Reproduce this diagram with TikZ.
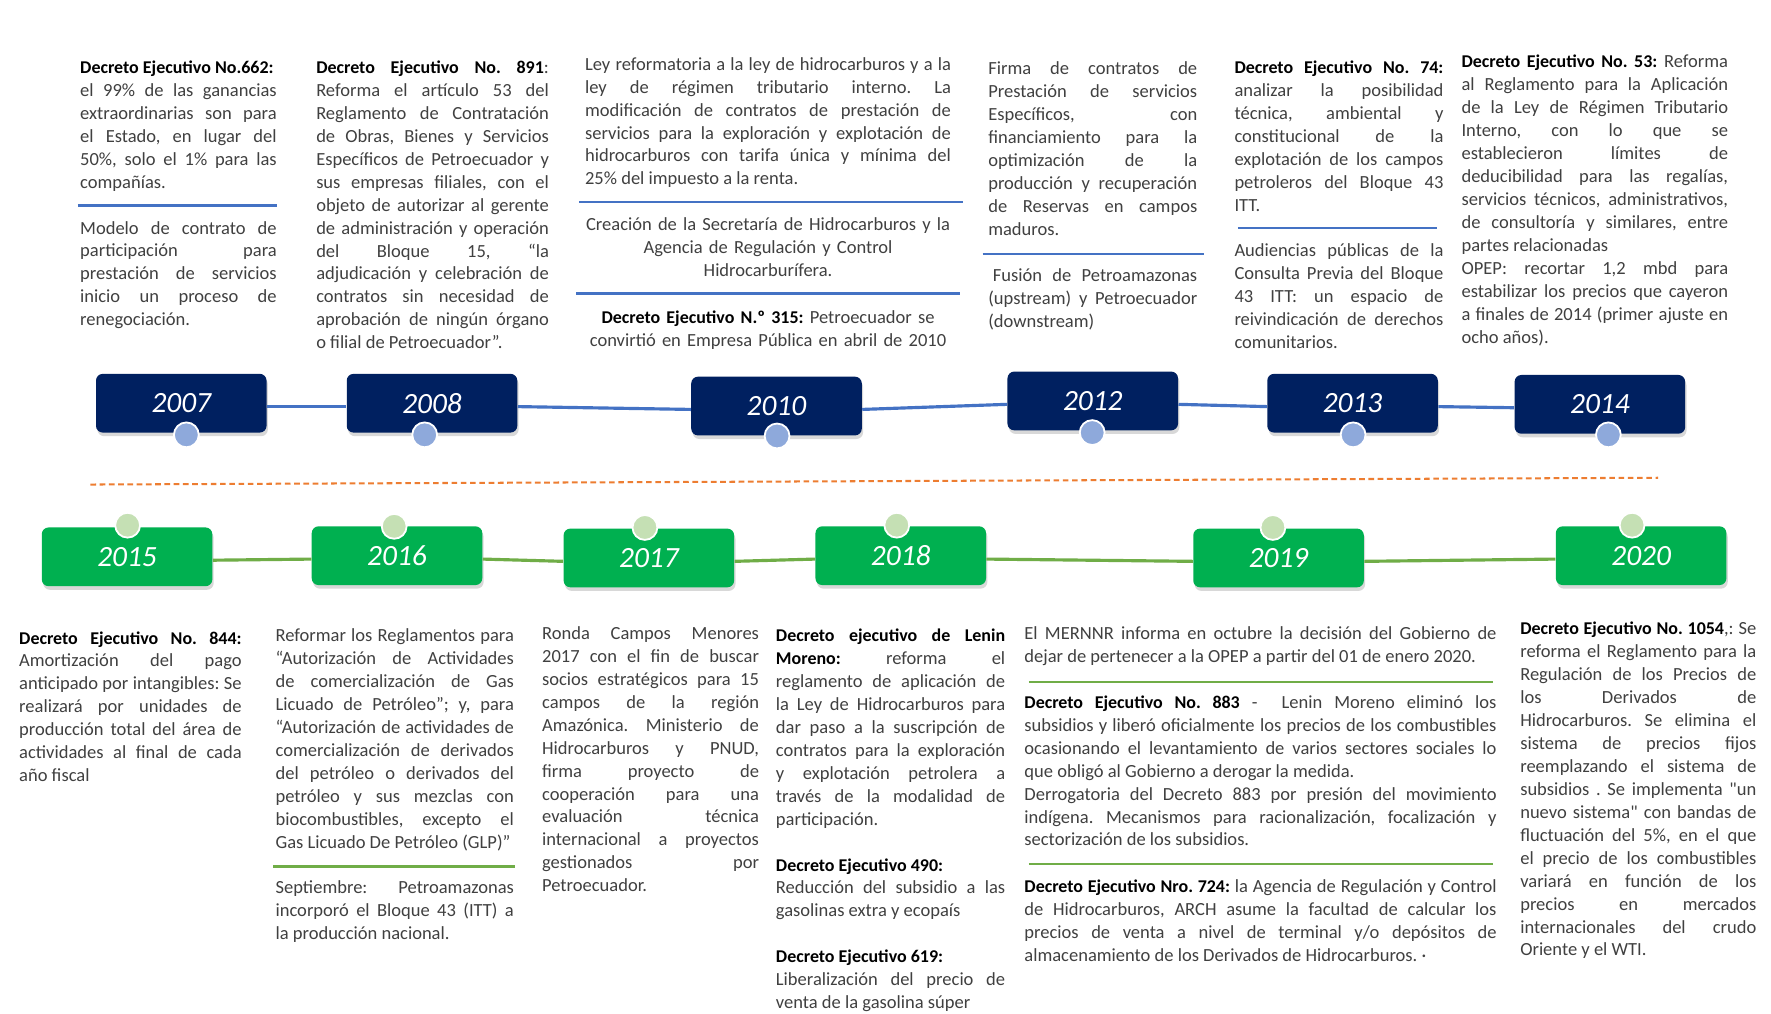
\documentclass[tikz,border=0pt]{standalone}
\usepackage{fontspec}
\setmainfont{Carlito}[Ligatures=TeXOff, BoldFeatures={Scale=0.97}]
\usetikzlibrary{shadows}
\definecolor{navy}{HTML}{002060}
\definecolor{grn}{HTML}{00B050}
\definecolor{lineblue}{HTML}{4472C4}
\definecolor{linegreen}{HTML}{70AD47}
\definecolor{circblue}{HTML}{8EA9DB}
\definecolor{circgreen}{HTML}{C5E0B4}
\definecolor{dashorange}{HTML}{ED7D31}
\definecolor{bodygray}{HTML}{404040}
\newcommand{\hd}[1]{{\bfseries\color{black}#1}}
\newcommand{\nl}{\linebreak}
\tikzset{
  txt/.style={anchor=north west, inner sep=0pt, outer sep=0pt, align=justify, text=bodygray,
    font=\fontsize{8.2}{10.15}\selectfont,
    execute at begin node={\parindent=0pt\frenchspacing\tolerance=10000\hyphenpenalty=10000\exhyphenpenalty=10000\hbadness=10000\hfuzz=3pt\strut}},
  ctxt/.style={anchor=north, inner sep=0pt, outer sep=0pt, align=center, text=bodygray,
    font=\fontsize{8.2}{10.15}\selectfont,
    execute at begin node={\parindent=0pt\frenchspacing\strut}},
  yearbox/.style={rectangle, rounded corners=3pt, minimum width=75.5pt, minimum height=26pt,
    inner sep=0pt, text=white, font=\fontsize{13}{15}\selectfont\itshape,
    drop shadow={shadow xshift=0.6pt, shadow yshift=-1.6pt, opacity=0.3}},
  topbox/.style={yearbox, fill=navy},
  botbox/.style={yearbox, fill=grn},
  dot/.style={circle, draw=white, line width=0.8pt, minimum size=11pt, inner sep=0pt},
  topdot/.style={dot, fill=circblue},
  botdot/.style={dot, fill=circgreen},
  bline/.style={draw=lineblue, line width=1.4pt},
  gline/.style={draw=linegreen, line width=1.4pt},
  brule/.style={draw=lineblue, line width=1.1pt},
  grule/.style={draw=linegreen, line width=1.1pt},
}
\begin{document}
\begin{tikzpicture}[x=0.5pt,y=-0.5pt]
\useasboundingbox[fill=white] (0,0) rectangle (1568,897);

% ---------- top year boxes ----------
\node[topbox] (b2007) at (160.5,357) {2007};
\node[topbox] (b2008) at (382.5,357) {2008};
\node[topbox] (b2010) at (687.5,359.5) {2010};
\node[topbox] (b2012) at (967.5,355) {2012};
\node[topbox] (b2013) at (1197.5,357) {2013};
\node[topbox] (b2014) at (1416.5,358) {2014};
\draw[bline] ([yshift=-1.5pt]b2007.east) -- ([yshift=-1.5pt]b2008.west);
\draw[bline] ([yshift=-1.5pt]b2008.east) -- ([yshift=-1.5pt]b2010.west);
\draw[bline] ([yshift=-1.5pt]b2010.east) -- ([yshift=-1.5pt]b2012.west);
\draw[bline] ([yshift=-1.5pt]b2012.east) -- ([yshift=-1.5pt]b2013.west);
\draw[bline] ([yshift=-1.5pt]b2013.east) -- ([yshift=-1.5pt]b2014.west);
\node[topdot] (d2007) at (165,385) {};
\node[topdot] (d2008) at (376,385) {};
\node[topdot] (d2010) at (688,386) {};
\node[topdot] (d2012) at (967,383) {};
\node[topdot] (d2013) at (1198,385) {};
\node[topdot] (d2014) at (1424,385) {};

% ---------- dashed separator ----------
\draw[dashorange, line width=0.9pt, dash pattern=on 2.5pt off 1.6pt] (80,429) -- (1468,423);

% ---------- bottom year boxes ----------
\node[botbox] (b2015) at (112.5,493) {2015};
\node[botbox] (b2016) at (351.5,492) {2016};
\node[botbox] (b2017) at (574.5,494) {2017};
\node[botbox] (b2018) at (797.5,492) {2018};
\node[botbox] (b2019) at (1132,494) {2019};
\node[botbox] (b2020) at (1453,492) {2020};
\draw[gline] ([yshift=-1.5pt]b2015.east) -- ([yshift=-1.5pt]b2016.west);
\draw[gline] ([yshift=-1.5pt]b2016.east) -- ([yshift=-1.5pt]b2017.west);
\draw[gline] ([yshift=-1.5pt]b2017.east) -- ([yshift=-1.5pt]b2018.west);
\draw[gline] ([yshift=-1.5pt]b2018.east) -- ([yshift=-1.5pt]b2019.west);
\draw[gline] ([yshift=-1.5pt]b2019.east) -- ([yshift=-1.5pt]b2020.west);
\node[botdot] (d2015) at (113,465) {};
\node[botdot] (d2016) at (349,466) {};
\node[botdot] (d2017) at (571,467) {};
\node[botdot] (d2018) at (794,465) {};
\node[botdot] (d2019) at (1127,467) {};
\node[botdot] (d2020) at (1445,465) {};

% ---------- top texts ----------
\node[txt, text width=87pt] (t1a) at (71,51) {\mbox{\hd{Decreto Ejecutivo No.662:}}\nl
el 99\% de las ganancias\nl extraordinarias son para\nl el Estado, en lugar del\nl
50\%, solo el 1\% para las\nl compañías.};
\draw[brule] (69,182) -- (245,182);
\node[txt, text width=87pt] (t1b) at (71,193) {Modelo de contrato de\nl participación para\nl
prestación de servicios\nl inicio un proceso de\nl renegociación.};

\node[txt, text width=103pt] (t2) at (280,51) {\hd{Decreto Ejecutivo No. 891}:\nl
Reforma el artículo 53 del\nl Reglamento de Contratación\nl de Obras, Bienes y Servicios\nl
Específicos de Petroecuador y\nl sus empresas filiales, con el\nl objeto de autorizar al gerente\nl
de administración y operación\nl del Bloque 15, “la\nl adjudicación y celebración de\nl
contratos sin necesidad de\nl aprobación de ningún órgano\nl o filial de Petroecuador”.};

\node[txt, text width=162pt] (t3a) at (518,48) {Ley reformatoria a la ley de hidrocarburos y a la\nl
ley de régimen tributario interno. La\nl modificación de contratos de prestación de\nl
servicios para la exploración y explotación de\nl hidrocarburos con tarifa única y mínima del\nl
25\% del impuesto a la renta.};
\draw[brule] (513,179) -- (853,179);
\node[ctxt, text width=170pt] (t3b) at (680,190) {Creación de la Secretaría de Hidrocarburos y la\\
Agencia de Regulación y Control\\ Hidrocarburífera.};
\draw[brule] (510,260) -- (850,260);
\node[ctxt, text width=170pt] (t3c) at (680,272) {\hd{Decreto Ejecutivo N.º 315:} Petroecuador se\\
convirtió en Empresa Pública en abril de 2010};

\node[txt, text width=92.5pt] (t4a) at (875,52) {Firma de contratos de\nl Prestación de servicios\nl
Específicos, con\nl financiamiento para la\nl optimización de la\nl producción y recuperación\nl
de Reservas en campos\nl maduros.};
\draw[brule] (870,225) -- (1066,225);
\node[txt, text width=92.5pt] (t4b) at (875,235) {\hspace{2pt}Fusión de Petroamazonas\nl
(upstream) y Petroecuador\nl (downstream)};

\node[txt, text width=92.5pt] (t5a) at (1093,51) {\hd{Decreto Ejecutivo No. 74:}\nl
analizar la posibilidad\nl técnica, ambiental y\nl constitucional de la\nl
explotación de los campos\nl petroleros del Bloque 43\nl ITT.};
\draw[brule] (1096,202) -- (1272,202);
\node[txt, text width=92.5pt] (t5b) at (1093,213) {Audiencias públicas de la\nl
Consulta Previa del Bloque\nl 43 ITT: un espacio de\nl reivindicación de derechos\nl comunitarios.};

\node[txt, text width=118pt] (t6) at (1294,46) {\hd{Decreto Ejecutivo No. 53:} Reforma\nl
al Reglamento para la Aplicación\nl de la Ley de Régimen Tributario\nl Interno, con lo que se\nl
establecieron límites de\nl deducibilidad para las regalías,\nl servicios técnicos, administrativos,\nl
de consultoría y similares, entre\nl partes relacionadas\par
OPEP: recortar 1,2 mbd para\nl estabilizar los precios que cayeron\nl
a finales de 2014 (primer ajuste en\nl ocho años).};

% ---------- bottom texts ----------
\node[txt, text width=98.5pt] (t7) at (17,556) {\hd{Decreto Ejecutivo No. 844:}\nl
Amortización del pago\nl anticipado por intangibles: Se\nl realizará por unidades de\nl
producción total del área de\nl actividades al final de cada\nl año fiscal};

\node[txt, text width=105.5pt] (t8a) at (244,554) {Reformar los Reglamentos para\nl
“Autorización de Actividades\nl de comercialización de Gas\nl Licuado de Petróleo”; y, para\nl
“Autorización de actividades de\nl comercialización de derivados\nl del petróleo o derivados del\nl
petróleo y sus mezclas con\nl biocombustibles, excepto el\nl Gas Licuado De Petróleo (GLP)”};
\draw[grule] (242,767) -- (456,767);
\node[txt, text width=105.5pt] (t8b) at (244,777) {Septiembre: Petroamazonas\nl
incorporó el Bloque 43 (ITT) a\nl la producción nacional.};

\node[txt, text width=96pt] (t9) at (480,552) {Ronda Campos Menores\nl 2017 con el fin de buscar\nl
socios estratégicos para 15\nl campos de la región\nl Amazónica. Ministerio de\nl
Hidrocarburos y PNUD,\nl firma proyecto de\nl cooperación para una\nl evaluación técnica\nl
internacional a proyectos\nl gestionados por\nl Petroecuador.};

\node[txt, text width=101.5pt] (t10) at (687,554) {\hd{Decreto ejecutivo de Lenin}\nl
\hd{Moreno:} reforma el\nl reglamento de aplicación de\nl la Ley de Hidrocarburos para\nl
dar paso a la suscripción de\nl contratos para la exploración\nl y explotación petrolera a\nl
través de la modalidad de\nl participación.\par\strut\par
\hd{Decreto Ejecutivo 490:}\par Reducción del subsidio a las\nl gasolinas extra y ecopaís\par\strut\par
\hd{Decreto Ejecutivo 619:}\par Liberalización del precio de\nl venta de la gasolina súper};

\node[txt, text width=209pt] (t11a) at (907,552) {El MERNNR informa en octubre la decisión del Gobierno de\nl
dejar de pertenecer a la OPEP a partir del 01 de enero 2020.};
\draw[grule] (911,604) -- (1322,604);
\node[txt, text width=209pt] (t11b) at (907,613) {\hd{Decreto Ejecutivo No. 883} -\ \ Lenin Moreno eliminó los\nl
subsidios y liberó oficialmente los precios de los combustibles\nl
ocasionando el levantamiento de varios sectores sociales lo\nl
que obligó al Gobierno a derogar la medida.\par
Derrogatoria del Decreto 883 por presión del movimiento\nl
indígena. Mecanismos para racionalización, focalización y\nl
sectorización de los subsidios.};
\draw[grule] (911,765) -- (1322,765);
\node[txt, text width=209pt] (t11c) at (907,776) {\hd{Decreto Ejecutivo Nro. 724:} la Agencia de Regulación y Control\nl
de Hidrocarburos, ARCH asume la facultad de calcular los\nl
precios de venta a nivel de terminal y/o depósitos de\nl
almacenamiento de los Derivados de Hidrocarburos. ·};

\node[txt, text width=104.5pt] (t12) at (1346,548) {\hd{Decreto Ejecutivo No. 1054},: Se\nl
reforma el Reglamento para la\nl Regulación de los Precios de\nl los Derivados de\nl
Hidrocarburos. Se elimina el\nl sistema de precios fijos\nl reemplazando el sistema de\nl
subsidios . Se implementa "un\nl nuevo sistema" con bandas de\nl fluctuación del 5\%, en el que\nl
el precio de los combustibles\nl variará en función de los\nl precios en mercados\nl
internacionales del crudo\nl Oriente y el WTI.};
\end{tikzpicture}
\end{document}
